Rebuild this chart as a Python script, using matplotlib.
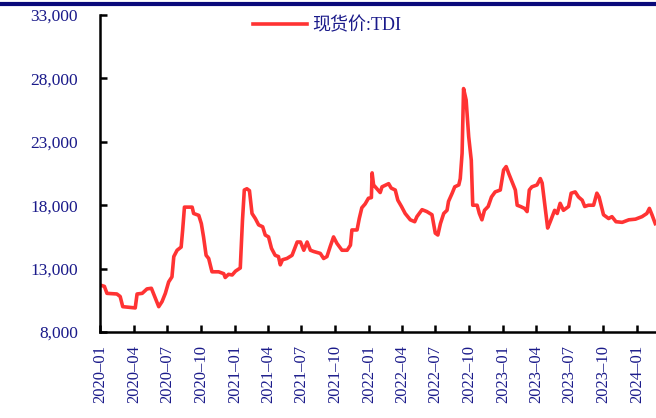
import matplotlib.pyplot as plt
import matplotlib.dates as mdates
from matplotlib.lines import Line2D
import pandas as pd

# TDI spot price (yuan/ton)
dates = [
    "2020-01-01", "2020-01-12", "2020-01-19", "2020-02-15", "2020-02-24", "2020-03-02",
    "2020-04-05", "2020-04-10", "2020-04-24", "2020-05-07", "2020-05-19", "2020-05-28",
    "2020-06-08", "2020-06-17", "2020-06-26", "2020-07-05", "2020-07-14", "2020-07-19",
    "2020-07-28", "2020-08-08", "2020-08-12", "2020-08-17", "2020-09-07", "2020-09-11",
    "2020-09-25", "2020-10-02", "2020-10-08", "2020-10-15", "2020-10-22", "2020-10-31",
    "2020-11-18", "2020-12-02", "2020-12-06", "2020-12-15", "2020-12-25", "2021-01-03",
    "2021-01-16", "2021-01-22", "2021-01-27", "2021-02-03", "2021-02-10", "2021-02-17",
    "2021-02-26", "2021-03-07", "2021-03-18", "2021-03-25", "2021-04-03", "2021-04-11",
    "2021-04-21", "2021-04-30", "2021-05-05", "2021-05-11", "2021-05-23", "2021-06-06",
    "2021-06-10", "2021-06-20", "2021-06-29", "2021-07-08", "2021-07-17", "2021-07-26",
    "2021-08-04", "2021-08-22", "2021-08-31", "2021-09-09", "2021-09-18", "2021-09-27",
    "2021-10-06", "2021-10-20", "2021-11-03", "2021-11-12", "2021-11-16", "2021-11-30",
    "2021-12-06", "2021-12-13", "2021-12-22", "2021-12-31", "2022-01-08", "2022-01-10",
    "2022-01-14", "2022-02-01", "2022-02-06", "2022-02-24", "2022-03-03", "2022-03-14",
    "2022-03-21", "2022-03-31", "2022-04-10", "2022-04-24", "2022-05-06", "2022-05-12",
    "2022-05-26", "2022-06-08", "2022-06-22", "2022-07-01", "2022-07-08", "2022-07-15",
    "2022-07-24", "2022-08-02", "2022-08-06", "2022-08-16", "2022-08-23", "2022-09-03",
    "2022-09-07", "2022-09-12", "2022-09-16", "2022-09-23", "2022-09-30", "2022-10-07",
    "2022-10-11", "2022-10-23", "2022-10-29", "2022-11-05", "2022-11-12", "2022-11-22",
    "2022-12-01", "2022-12-11", "2022-12-25", "2023-01-03", "2023-01-10", "2023-01-17",
    "2023-01-26", "2023-02-04", "2023-02-09", "2023-02-18", "2023-03-01", "2023-03-08",
    "2023-03-14", "2023-03-21", "2023-04-04", "2023-04-13", "2023-04-18", "2023-04-27",
    "2023-05-03", "2023-05-10", "2023-05-22", "2023-05-29", "2023-06-06", "2023-06-15",
    "2023-06-29", "2023-07-06", "2023-07-17", "2023-07-26", "2023-08-05", "2023-08-12",
    "2023-08-22", "2023-09-05", "2023-09-14", "2023-09-20", "2023-10-02", "2023-10-16",
    "2023-10-25", "2023-11-05", "2023-11-22", "2023-12-10", "2023-12-28", "2024-01-15",
    "2024-01-28", "2024-02-04", "2024-02-11", "2024-02-20",
]
prices = [
    11700, 11600, 11050, 11000, 10800, 10000,
    9900, 11000, 11050, 11400, 11450, 10800,
    10000, 10400, 11050, 11950, 12350, 13950,
    14450, 14700, 16000, 17850, 17850, 17350,
    17200, 16550, 15500, 14050, 13800, 12750,
    12750, 12600, 12300, 12550, 12500, 12800,
    13050, 16800, 19200, 19300, 19150, 17350,
    16950, 16450, 16300, 15650, 15500, 14600,
    14050, 13950, 13300, 13700, 13800, 14050,
    14350, 15100, 15100, 14450, 15100, 14450,
    14350, 14200, 13800, 13950, 14750, 15500,
    15000, 14450, 14450, 14850, 16050, 16050,
    16950, 17800, 18100, 18550, 18600, 20550,
    19600, 19000, 19450, 19700, 19350, 19200,
    18400, 17900, 17350, 16850, 16700, 17100,
    17650, 17500, 17250, 15800, 15650, 16550,
    17350, 17600, 18300, 18950, 19450, 19600,
    20100, 22100, 27200, 26300, 23400, 21550,
    18000, 18000, 17350, 16850, 17600, 17900,
    18650, 19050, 19200, 20780, 21050, 20500,
    19850, 19200, 18000, 17900, 17750, 17500,
    19200, 19450, 19600, 20100, 19750, 17600,
    16200, 16700, 17600, 17350, 18150, 17600,
    17900, 18950, 19050, 18650, 18400, 17900,
    18000, 18000, 18950, 18650, 17250, 16950,
    17100, 16700, 16650, 16850, 16900, 17100,
    17350, 17750, 17250, 16550,
]
y_ticks = [8000, 13000, 18000, 23000, 28000, 33000]

navy = '#1a1a8a'
serif = ['Liberation Serif', 'Noto Sans CJK SC']

fig = plt.figure(figsize=(6.56, 4.18), dpi=100)
ax = fig.add_axes([0.1524, 0.2057, 0.8476, 0.7583])

x = pd.to_datetime(dates)
ax.plot(x, prices, color='#ff3333', lw=2.6, label='现货价:TDI', solid_joinstyle='round')

ax.set_ylim(8000, 33000)
ax.set_yticks(y_ticks)
ax.set_yticklabels([f'{v:,}' for v in y_ticks], family=serif, color=navy, fontsize=12.5)
ax.set_xlim(pd.Timestamp('2019-12-31'), pd.Timestamp('2024-02-22'))
ax.xaxis.set_major_locator(mdates.MonthLocator(bymonth=[1, 4, 7, 10]))
ax.xaxis.set_major_formatter(mdates.DateFormatter('%Y–%m'))
for lab in ax.get_xticklabels():
    lab.set_rotation(90)
    lab.set_family(serif)
    lab.set_color(navy)
    lab.set_fontsize(12)

for s in ['top', 'right']:
    ax.spines[s].set_visible(False)
for s in ['left', 'bottom']:
    ax.spines[s].set_linewidth(1.8)
ax.tick_params(direction='in', length=5, width=1.8)
ax.tick_params(axis='y', pad=16)
ax.tick_params(axis='x', pad=9)

leg = ax.legend(loc='upper left', bbox_to_anchor=(0.246, 1.045), frameon=False,
                prop={'family': serif, 'size': 13}, handlelength=3.0, handletextpad=0.28)
for t in leg.get_texts():
    t.set_color(navy)

# dark rule across the top of the figure
fig.add_artist(Line2D([0, 1], [0.991, 0.991], color='#0a0a7a', lw=3, transform=fig.transFigure))

fig.savefig('out.png', dpi=100)
